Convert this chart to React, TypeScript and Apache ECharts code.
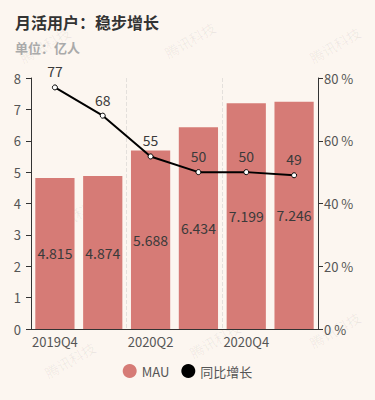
import React, { useEffect, useRef } from "react";
import * as echarts from "echarts";

const categories = ["2019Q4", "2020Q1", "2020Q2", "2020Q3", "2020Q4", "2021Q1"];
const mauValues = [4.815, 4.874, 5.688, 6.434, 7.199, 7.246];
const growthValues = [77, 68, 55, 50, 50, 49];
const watermarks = [
  [45, 45], [190, 40], [335, 45], [75, 215], [215, 340], [335, 330], [70, 360],
];

export default function App() {
  const ref = useRef<HTMLDivElement>(null);
  useEffect(() => {
    if (!ref.current) return;
    document.body.style.margin = "0";
    const chart = echarts.init(ref.current, null, { renderer: "svg" });
    const font = "'Noto Sans CJK SC', sans-serif";
    chart.setOption({
      animation: false,
      backgroundColor: "#fcf6f0",
      textStyle: { fontFamily: font },
      title: {
        text: "月活用户：稳步增长",
        subtext: "单位：亿人",
        left: 10,
        top: 9,
        itemGap: 11,
        textStyle: { fontSize: 16, fontWeight: "bold", color: "#333", fontFamily: font },
        subtextStyle: { fontSize: 13, color: "#aaa", fontWeight: "bold", fontFamily: font },
      },
      graphic: watermarks.map(([x, y]) => ({
        type: "text",
        x,
        y,
        rotation: Math.PI / 6,
        silent: true,
        z: 0,
        style: {
          text: "腾讯科技",
          fill: "rgba(0,0,0,0.06)",
          font: `14px ${font}`,
          textAlign: "center",
          textVerticalAlign: "middle",
        },
      })),
      legend: {
        bottom: 17,
        left: "center",
        itemWidth: 14,
        itemHeight: 14,
        itemGap: 12,
        textStyle: { fontSize: 13, color: "#555" },
        data: [
          { name: "MAU", icon: "circle", itemStyle: { color: "#d67b76" } },
          { name: "同比增长", icon: "circle", itemStyle: { color: "#000", borderWidth: 0 } },
        ],
      },
      grid: { left: 31, right: 57, top: 78, bottom: 71 },
      xAxis: {
        type: "category",
        data: categories,
        axisLine: { lineStyle: { color: "#333" } },
        axisTick: { interval: 1, lineStyle: { color: "#333" } },
        axisLabel: { interval: 1, color: "#555", fontSize: 13, margin: 6 },
        splitLine: { show: true, interval: 1, lineStyle: { type: "dashed", color: "#e4e0dc" } },
      },
      yAxis: [
        {
          type: "value",
          min: 0,
          max: 8,
          interval: 1,
          axisLine: { show: true, lineStyle: { color: "#333" } },
          axisTick: { show: true },
          axisLabel: { color: "#555", fontSize: 13, margin: 10 },
          splitLine: { show: false },
        },
        {
          type: "value",
          min: 0,
          max: 80,
          interval: 20,
          axisLine: { show: true, lineStyle: { color: "#333" } },
          axisTick: { show: true },
          axisLabel: { color: "#555", fontSize: 13, formatter: "{value} %", margin: 6 },
          splitLine: { show: false },
        },
      ],
      series: [
        {
          name: "MAU",
          type: "bar",
          data: mauValues,
          barCategoryGap: "18%",
          itemStyle: { color: "#d67b76" },
          label: { show: true, position: "inside", color: "#3a3a3a", fontSize: 14 },
        },
        {
          name: "同比增长",
          type: "line",
          yAxisIndex: 1,
          data: growthValues,
          symbol: "circle",
          symbolSize: 5,
          itemStyle: { color: "#fff", borderColor: "#000", borderWidth: 1 },
          lineStyle: { color: "#000", width: 2 },
          label: { show: true, position: "top", color: "#3a3a3a", fontSize: 14, distance: 6 },
        },
      ],
    });
    return () => chart.dispose();
  }, []);
  return <div ref={ref} style={{ width: 375, height: 400 }} />;
}
